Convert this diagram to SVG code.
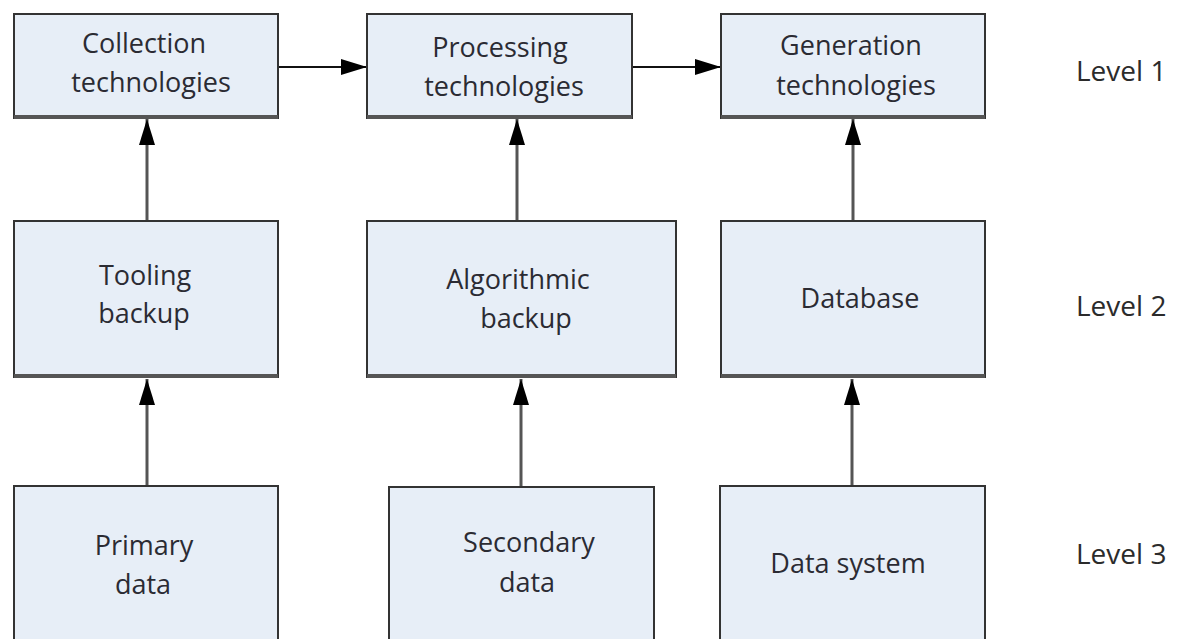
<svg xmlns="http://www.w3.org/2000/svg" width="1178" height="639" viewBox="0 0 1178 639">
<style>
.box{fill:#e7eef7;stroke:#333;stroke-width:2}
.shadow{stroke:#555;stroke-width:4}
.t{font-family:"Open Sans","DejaVu Sans",sans-serif;font-size:27px;fill:#2b2b33;text-anchor:middle}
.lvl{font-family:"Open Sans","DejaVu Sans",sans-serif;font-size:28px;fill:#2b2b2b}
.v{stroke:#555;stroke-width:3;fill:none;marker-end:url(#ah)}
.h{stroke:#111;stroke-width:2;fill:none;marker-end:url(#ah)}
</style>
<defs>
<marker id="ah" markerUnits="userSpaceOnUse" markerWidth="28" markerHeight="18" refX="26" refY="9" orient="auto">
<path d="M0,1 L26,9 L0,17 Z" fill="#000"/>
</marker>
</defs>
<rect width="1178" height="639" fill="#fff"/>
<g id="connectors">
<line class="h" x1="279" y1="67" x2="367" y2="67"/>
<line class="h" x1="633" y1="67" x2="721" y2="67"/>
<line class="v" x1="147" y1="221" x2="147" y2="119"/>
<line class="v" x1="517" y1="221" x2="517" y2="119"/>
<line class="v" x1="853" y1="221" x2="853" y2="119"/>
<line class="v" x1="147" y1="486" x2="147" y2="379"/>
<line class="v" x1="521" y1="487" x2="521" y2="379"/>
<line class="v" x1="852" y1="486" x2="852" y2="379"/>
</g>
<g id="collection">
<rect class="box" x="14" y="14" width="264" height="104"/>
<line class="shadow" x1="14" y1="117" x2="278" y2="117"/>
<text class="t" x="144" y="53">Collection</text>
<text class="t" x="151" y="92">technologies</text>
</g>
<g id="processing">
<rect class="box" x="367" y="14" width="265" height="104"/>
<line class="shadow" x1="367" y1="117" x2="632" y2="117"/>
<text class="t" x="500" y="57">Processing</text>
<text class="t" x="504" y="96">technologies</text>
</g>
<g id="generation">
<rect class="box" x="721" y="14" width="264" height="104"/>
<line class="shadow" x1="721" y1="117" x2="985" y2="117"/>
<text class="t" x="851" y="55">Generation</text>
<text class="t" x="856" y="95">technologies</text>
</g>
<g id="tooling">
<rect class="box" x="14" y="221" width="264" height="156"/>
<line class="shadow" x1="14" y1="376" x2="278" y2="376"/>
<text class="t" x="145" y="285">Tooling</text>
<text class="t" x="144" y="323">backup</text>
</g>
<g id="algorithmic">
<rect class="box" x="367" y="221" width="309" height="156"/>
<line class="shadow" x1="367" y1="376" x2="676" y2="376"/>
<text class="t" x="518" y="289">Algorithmic</text>
<text class="t" x="526" y="328">backup</text>
</g>
<g id="database">
<rect class="box" x="721" y="221" width="264" height="156"/>
<line class="shadow" x1="721" y1="376" x2="985" y2="376"/>
<text class="t" x="860" y="308">Database</text>
</g>
<g id="primary">
<rect class="box" x="14" y="486" width="264" height="170"/>
<text class="t" x="144" y="555">Primary</text>
<text class="t" x="143" y="594">data</text>
</g>
<g id="secondary">
<rect class="box" x="389" y="487" width="265" height="170"/>
<text class="t" x="529" y="552">Secondary</text>
<text class="t" x="527" y="592">data</text>
</g>
<g id="datasystem">
<rect class="box" x="720" y="486" width="265" height="170"/>
<text class="t" x="848" y="573">Data system</text>
</g>
<g id="levels">
<text class="lvl" x="1076" y="81">Level 1</text>
<text class="lvl" x="1076" y="316">Level 2</text>
<text class="lvl" x="1076" y="564">Level 3</text>
</g>
</svg>
